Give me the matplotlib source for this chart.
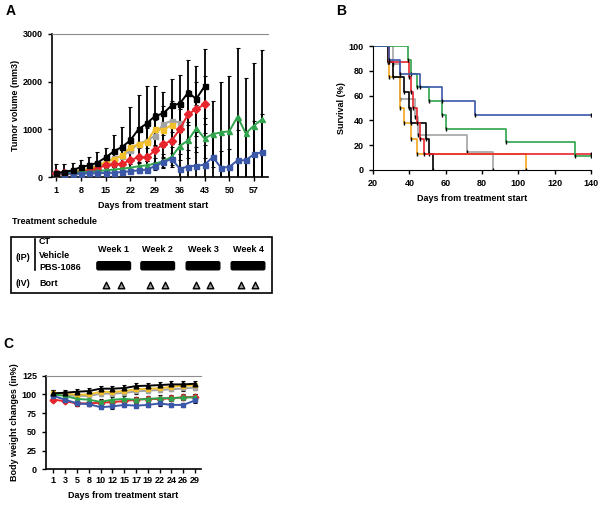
import matplotlib.pyplot as plt
import numpy as np
from matplotlib.patches import Rectangle, FancyBboxPatch

plt.rcParams['font.family'] = ['Liberation Sans', 'DejaVu Sans']
plt.rcParams['font.weight'] = 'bold'
plt.rcParams['axes.labelweight'] = 'bold'

# ---- panel A: tumor volume
days_a = [1, 3, 5, 8, 10, 12, 15, 17, 19, 22, 24, 26, 29, 31, 33, 36, 38, 40, 43,
          45, 47, 50, 52, 54, 57, 59]
black_a = [85, 105, 140, 210, 245, 300, 410, 540, 630, 770, 1005, 1125, 1280, 1335,
           1500, 1540, 1770, 1640, 1900]
black_a_err = [185, 165, 160, 140, 175, 230, 200, 340, 410, 690, 715, 785, 620, 455,
               560, 600, 675, 690, 785]
gray_a = [85, 90, 100, 125, 165, 230, 300, 390, 440, 560, 700, 760, 870, 1110, 1180, 1140]
gray_a_err = [40, 40, 50, 60, 70, 90, 110, 130, 160, 200, 240, 280, 330, 380, 420, 450]
yellow_a = [85, 90, 100, 130, 170, 225, 325, 370, 455, 620, 690, 740, 1010, 985, 1090]
yellow_a_err = [40, 40, 50, 60, 80, 100, 130, 150, 180, 220, 260, 290, 340, 360, 400]
red_a = [85, 85, 90, 100, 125, 175, 250, 265, 280, 350, 420, 410, 560, 690, 760, 1005,
         1315, 1425, 1525]
red_a_err = [30, 30, 40, 50, 60, 80, 100, 110, 120, 150, 180, 200, 260, 300, 330, 420,
             520, 560, 600]
green_a = [85, 85, 90, 100, 110, 120, 140, 155, 175, 195, 225, 245, 280, 330, 420, 650,
           770, 1020, 810, 900, 935, 960, 1265, 915, 1080, 1215]
green_a_err = [30, 30, 30, 40, 40, 50, 60, 60, 70, 80, 90, 100, 120, 150, 200, 300,
               380, 500, 420, 700, 1065, 1160, 1435, 1155, 1320, 1440]
blue_a = [85, 70, 70, 70, 75, 80, 85, 90, 105, 120, 140, 155, 230, 310, 380, 175, 220,
          240, 255, 420, 195, 210, 350, 350, 480, 520]
blue_a_err = [20, 20, 20, 20, 25, 25, 30, 30, 35, 40, 50, 55, 80, 110, 130, 300, 350,
              380, 420, 500, 350, 380, 630, 600, 700, 800]

# ---- panel B: survival (step times, survival after each step)
blue_t = [20, 29, 35, 46, 58, 76, 140]
blue_s = [100, 88.9, 77.8, 66.7, 55.6, 44.4, 44.4]
green_t = [20, 39, 41, 44, 51, 58, 60, 93, 131, 140]
green_s = [100, 88.9, 77.8, 66.7, 55.6, 44.4, 33.3, 22.2, 11.1, 11.1]
red_t = [20, 29, 40, 41, 42, 44, 46, 48, 140]
red_s = [100, 87.5, 75, 62.5, 50, 37.5, 25, 12.5, 12.5]
black_t = [20, 28, 31, 37, 40, 41, 49, 51, 53]
black_s = [100, 87.5, 75, 62.5, 50, 37.5, 25, 12.5, 0]
gray_t = [20, 31, 35, 43, 45, 72, 86]
gray_s = [100, 85.7, 57.1, 42.9, 28.6, 14.3, 0]
orange_t = [20, 28, 29, 35, 37, 41, 44, 104]
orange_s = [100, 87.5, 75, 50, 37.5, 25, 12.5, 0]

# ---- panel C: body weight
days_c = [1, 3, 5, 8, 10, 12, 15, 17, 19, 22, 24, 26, 29]
black_c = [101.4, 102.3, 103.6, 104.5, 107.7, 107.7, 108.5, 111.2, 111.7, 112.5, 113.4,
           113.4, 114.3]
yellow_c = [102.3, 101, 99.6, 100, 103.6, 103.2, 104.5, 106.8, 107.7, 108.1, 110.3,
            111.7, 112.1]
gray_c = [100, 99, 98, 98, 101, 101, 102, 104, 105, 106, 107, 108, 109]
green_c = [100, 98, 94, 93, 90, 93, 94, 93, 94, 95, 95, 96, 96]
red_c = [93, 91, 88, 88, 89, 90, 91, 93, 94, 94, 95, 96, 97]
blue_c = [98, 93, 88, 87, 83, 84, 86, 85, 86, 88, 86, 86, 92]

weeks = ['Week 1', 'Week 2', 'Week 3', 'Week 4']

c_black = '#000000'
c_gray = '#a3a3a3'
c_yellow = '#f2bf2a'
c_orange = '#f5a623'
c_red = '#e8242c'
c_green = '#2fa44c'
c_blue = '#3b58a8'

fig = plt.figure(figsize=(6, 5.05), dpi=100)
fs = 6.5


def style_axes(ax):
    ax.spines['right'].set_visible(False)
    ax.spines['top'].set_color('#8c8c8c')
    ax.spines['left'].set_linewidth(1.2)
    ax.spines['bottom'].set_linewidth(1.2)
    ax.tick_params(labelsize=fs, width=1, length=3, direction='out')


# panel A
axA = fig.add_axes([0.0867, 0.6495, 0.36, 0.2832])
series_a = [(gray_a, gray_a_err, c_gray, 's'), (yellow_a, yellow_a_err, c_yellow, 's'),
            (red_a, red_a_err, c_red, 'D'), (green_a, green_a_err, c_green, '^'),
            (blue_a, blue_a_err, c_blue, 's'), (black_a, black_a_err, c_black, 's')]
for vals, err, col, mk in series_a:
    x = np.arange(len(vals))
    axA.errorbar(x, vals, yerr=err, fmt='none', ecolor='black', elinewidth=1.3,
                 capsize=1.5, capthick=0.8, zorder=2)
for vals, err, col, mk in series_a:
    x = np.arange(len(vals))
    axA.plot(x, vals, color=col, lw=1.4, marker=mk, ms=3.6, zorder=3)
axA.set_xlim(-0.5, 25.7)
axA.set_ylim(0, 3000)
axA.set_yticks([0, 1000, 2000, 3000])
axA.set_xticks(range(0, 26, 3))
axA.set_xticklabels([days_a[i] for i in range(0, 26, 3)])
axA.set_ylabel('Tumor volume (mm3)', fontsize=fs, labelpad=2)
axA.set_xlabel('Days from treatment start', fontsize=fs, labelpad=4)
axA.xaxis.label.set_x(0.468)
style_axes(axA)

# panel B
axB = fig.add_axes([0.6217, 0.6634, 0.3633, 0.2455])
for t, s, col in [(gray_t, gray_s, c_gray), (orange_t, orange_s, c_orange),
                  (black_t, black_s, c_black), (red_t, red_s, c_red),
                  (green_t, green_s, c_green), (blue_t, blue_s, c_blue)]:
    axB.step(t, s, where='post', color=col, lw=1.2)
    axB.plot(t[1:], s[1:], ls='none', marker='|', ms=3.5, mew=1, color='black')
axB.set_xlim(20, 140)
axB.set_ylim(0, 100)
axB.set_xticks(range(20, 141, 20))
axB.set_yticks(range(0, 101, 20))
axB.spines['top'].set_visible(False)
axB.spines['right'].set_visible(False)
axB.tick_params(labelsize=fs, width=1, length=3)
axB.set_ylabel('Survival (%)', fontsize=fs, labelpad=2)
axB.set_xlabel('Days from treatment start', fontsize=fs, labelpad=4)
axB.xaxis.label.set_x(0.455)

# panel C
axC = fig.add_axes([0.0767, 0.0707, 0.2583, 0.1853])
xc = np.arange(len(days_c))
for vals, col, mk, e in [(gray_c, c_gray, 's', 3), (yellow_c, c_yellow, 's', 3),
                         (red_c, c_red, 'D', 3), (green_c, c_green, '^', 4),
                         (blue_c, c_blue, 's', 3), (black_c, c_black, '^', 4)]:
    axC.errorbar(xc, vals, yerr=e, fmt='none', ecolor='black', elinewidth=1.3,
                 capsize=1.5, capthick=0.8, zorder=2)
    axC.plot(xc, vals, color=col, lw=1.4, marker=mk, ms=3.4, zorder=3)
axC.set_xlim(-0.62, 12.5)
axC.set_ylim(0, 125)
axC.set_yticks(range(0, 126, 25))
axC.set_xticks(xc)
axC.set_xticklabels(days_c)
axC.set_ylabel('Body weight changes (in%)', fontsize=fs, labelpad=2)
axC.set_xlabel('Days from treatment start', fontsize=fs, labelpad=4)
style_axes(axC)
axC.tick_params(axis='x', pad=2)

# overlay for letters and treatment schedule (pixel coordinates)
ov = fig.add_axes([0, 0, 1, 1])
ov.set_xlim(0, 600)
ov.set_ylim(505, 0)
ov.axis('off')
ov.text(6, 4, 'A', fontsize=10, fontweight='bold', va='top')
ov.text(336, 4, 'B', fontsize=10, fontweight='bold', va='top')
ov.text(3, 337, 'C', fontsize=10, fontweight='bold', va='top')

ov.text(12, 222, 'Treatment schedule', fontsize=fs, va='center')
ov.add_patch(Rectangle((11, 236.5), 261, 56, fill=False, lw=1.2, ec='black'))
ov.plot([35, 35], [239, 270], color='black', lw=1.2)
ov.text(39, 242, 'CT', fontsize=fs, va='center')
ov.text(39, 256, 'Vehicle', fontsize=fs, va='center')
ov.text(39, 267.5, 'PBS-1086', fontsize=fs, va='center')
ov.text(15, 257, '(IP)', fontsize=fs, va='center')
ov.text(15, 283, '(IV)', fontsize=fs, va='center')
ov.text(39, 283, 'Bort', fontsize=fs, va='center')
bar_left = [96.7, 140.7, 186, 231]
for i, w in enumerate(weeks):
    x0 = bar_left[i]
    ov.text(x0 + 17, 249, w, fontsize=fs, ha='center', va='center')
    ov.add_patch(FancyBboxPatch((x0 + 1, 262.5), 32, 6.5,
                                boxstyle='round,pad=0.8,rounding_size=1.5',
                                fc='black', ec='black'))
    ov.scatter([x0 + 9.5, x0 + 24], [285, 285], marker='^', s=22, c='#9a9a9a',
               edgecolors='black', linewidths=1)

fig.savefig('out.png', dpi=100)
